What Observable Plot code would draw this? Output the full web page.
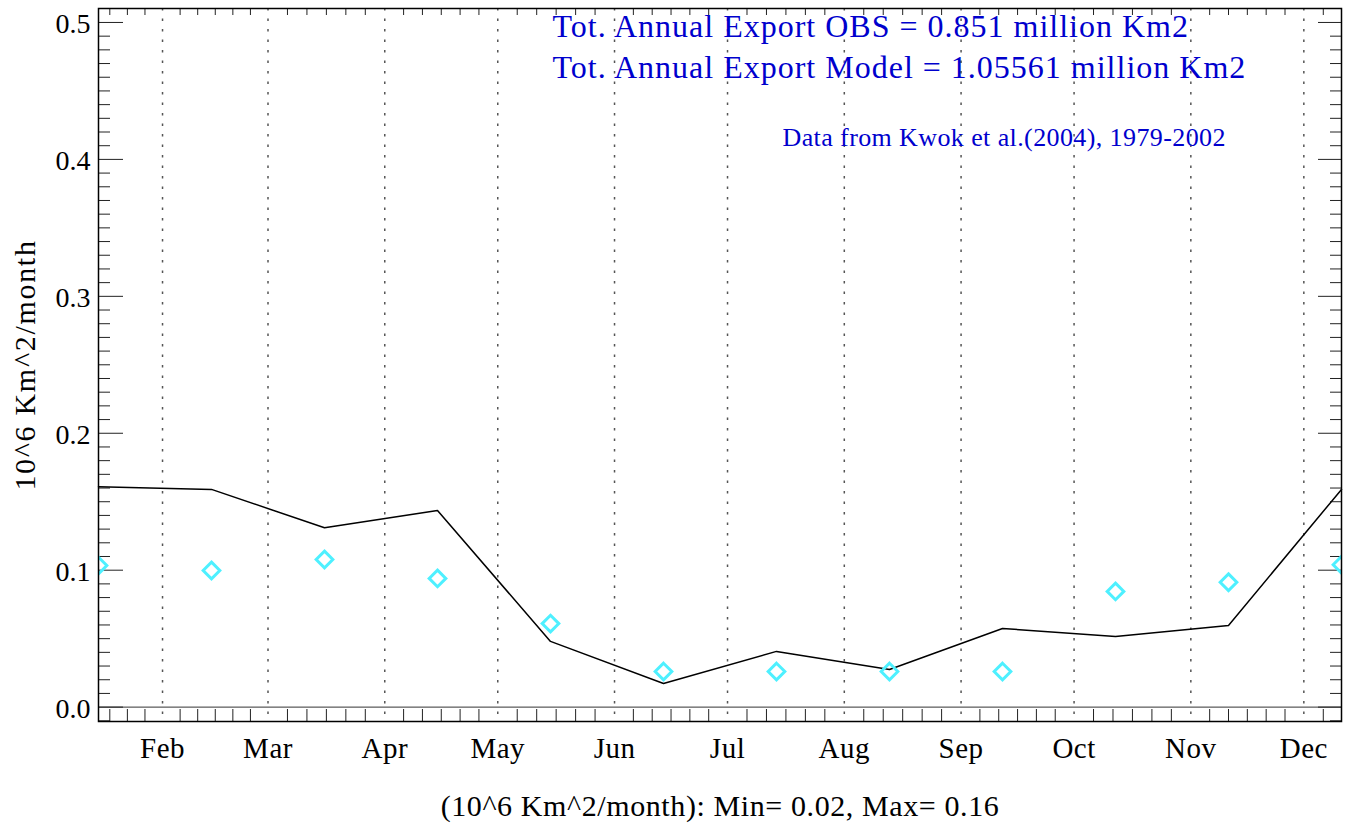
<!DOCTYPE html>
<html><head><meta charset="utf-8">
<script src="https://cdn.jsdelivr.net/npm/d3@7"></script>
<script src="https://cdn.jsdelivr.net/npm/@observablehq/plot@0.6"></script>
<style>body{margin:0;background:#fff}</style>
</head><body><div id="chart"></div>
<script>
// ---- data ----
const pointDays = [15, 45, 75, 105, 135, 165, 195, 225, 255, 285, 315, 345];
const modelExport = [0.161, 0.159, 0.131, 0.1436, 0.048, 0.0173, 0.0407, 0.0275, 0.0574, 0.0516, 0.0596, 0.159];
const obsExport = [0.1034, 0.0998, 0.1078, 0.094, 0.061, 0.026, 0.026, 0.026, 0.026, 0.0845, 0.0912, 0.104];
const monthStartDays = [32, 60, 91, 121, 152, 182, 213, 244, 274, 305, 335];
const monthLabels = ["Feb", "Mar", "Apr", "May", "Jun", "Jul", "Aug", "Sep", "Oct", "Nov", "Dec"];
const yMajorTicks = [0, 0.1, 0.2, 0.3, 0.4, 0.5];
const titleLines = ["Tot. Annual Export OBS = 0.851 million Km2", "Tot. Annual Export Model = 1.05561 million Km2"];
const sourceNote = "Data from Kwok et al.(2004), 1979-2002";
const yLabel = "10^6 Km^2/month";
const caption = "(10^6 Km^2/month): Min= 0.02, Max= 0.16";

// ---- layout ----
const W = 1354, H = 825;
const mt = 8, mb = 104, ml = 98, mr = 13;
const X0 = 15, X1 = 345, Y0 = -0.0105, Y1 = 0.5102;
const xPerPx = (X1 - X0) / (W - ml - mr);
const yPerPx = (Y1 - Y0) / (H - mt - mb);

const model = pointDays.map((d, i) => ({day: d, v: modelExport[i]}));
const obs = pointDays.map((d, i) => ({day: d, v: obsExport[i]}));
const months = monthStartDays.map((d, i) => ({day: d, label: monthLabels[i]}));

// minor x ticks: each month divided in 6
const bounds = [...monthStartDays, 366];
const minorX = [];
const firstStep = (bounds[1] - bounds[0]) / 6;
for (let t = bounds[0] - firstStep; t > X0 + 0.5; t -= firstStep) minorX.push(t);
for (let i = 0; i < bounds.length - 1; i++) {
  const s = (bounds[i + 1] - bounds[i]) / 6;
  for (let j = 1; j < 6; j++) { const t = bounds[i] + j * s; if (t < X1 - 0.5) minorX.push(t); }
}
const minorY = d3.range(-1, 51).map(k => k / 100).filter(v => !yMajorTicks.some(m => Math.abs(m - v) < 1e-9));

const FONT = "Liberation Serif";
const blue = "#0000cd";

const chart = Plot.plot({
  width: W, height: H,
  marginTop: mt, marginBottom: mb, marginLeft: ml, marginRight: mr,
  style: {fontFamily: FONT, background: "#fff"},
  x: {domain: [X0, X1], axis: null},
  y: {domain: [Y0, Y1], axis: null},
  marks: [
    // dotted month grid
    Plot.ruleX(months, {x: "day", stroke: "#555", strokeWidth: 1.5, strokeDasharray: "2.5,8"}),
    // zero line
    Plot.ruleY([0], {stroke: "#333", strokeWidth: 1}),
    // minor x ticks bottom & top
    Plot.ruleX(minorX, {x: d => d, y1: Y0, y2: Y0 + 12 * yPerPx, stroke: "#222", strokeWidth: 1}),
    Plot.ruleX(minorX, {x: d => d, y1: Y1, y2: Y1 - 7 * yPerPx, stroke: "#222", strokeWidth: 1}),
    // y ticks left & right
    Plot.ruleY(minorY, {y: d => d, x1: X0, x2: X0 + 12 * xPerPx, stroke: "#222", strokeWidth: 1}),
    Plot.ruleY(yMajorTicks, {y: d => d, x1: X0, x2: X0 + 25 * xPerPx, stroke: "#222", strokeWidth: 1}),
    Plot.ruleY(minorY, {y: d => d, x1: X1, x2: X1 - 11 * xPerPx, stroke: "#222", strokeWidth: 1}),
    Plot.ruleY(yMajorTicks, {y: d => d, x1: X1, x2: X1 - 23 * xPerPx, stroke: "#222", strokeWidth: 1}),
    // model line
    Plot.line(model, {x: "day", y: "v", stroke: "#000", strokeWidth: 1.5}),
    // obs diamonds
    Plot.dot(obs, {x: "day", y: "v", symbol: "diamond2", r: 7.5, stroke: "#4ef0ff", strokeWidth: 3, fill: "none", clip: true}),
    Plot.frame({stroke: "#000", strokeWidth: 1.5}),
    // tick labels
    Plot.text(months, {x: "day", text: "label", frameAnchor: "bottom", lineAnchor: "bottom", dy: 36, fontSize: 29, fill: "#000"}),
    Plot.text(yMajorTicks, {y: d => d, text: d => d3.format(".1f")(d), frameAnchor: "left", textAnchor: "end", lineAnchor: "middle", dx: -8, dy: 2, fontSize: 28, fill: "#000"}),
    // y label
    Plot.text([yLabel], {frameAnchor: "left", rotate: -90, textAnchor: "middle", lineAnchor: "middle", dx: -73, fontSize: 30, fill: "#000"}),
    // caption
    Plot.text([caption], {frameAnchor: "bottom", textAnchor: "middle", lineAnchor: "bottom", dy: 94, fontSize: 30, fill: "#000"}),
    // titles
    Plot.text([titleLines[0]], {frameAnchor: "top-left", textAnchor: "start", lineAnchor: "bottom", dx: 454, dy: 28, fontSize: 32, fill: blue}),
    Plot.text([titleLines[1]], {frameAnchor: "top-left", textAnchor: "start", lineAnchor: "bottom", dx: 454, dy: 69, fontSize: 32, fill: blue}),
    Plot.text([sourceNote], {frameAnchor: "top-left", textAnchor: "start", lineAnchor: "bottom", dx: 684, dy: 137, fontSize: 26, fill: blue})
  ]
});

// widen the Times-like glyph runs toward the reference's Palatino metrics
const spacing = new Map([
  [titleLines[0], 1.0], [titleLines[1], 1.0], [sourceNote, 0.4],
  [yLabel, 1.7], [caption, 0.6],
  ...monthLabels.map(m => [m, 0.5])
]);
d3.select(chart).selectAll("text").each(function () {
  const s = spacing.get(this.textContent);
  if (s != null) this.style.letterSpacing = s + "px";
});
document.getElementById("chart").appendChild(chart);
</script>
</body></html>
